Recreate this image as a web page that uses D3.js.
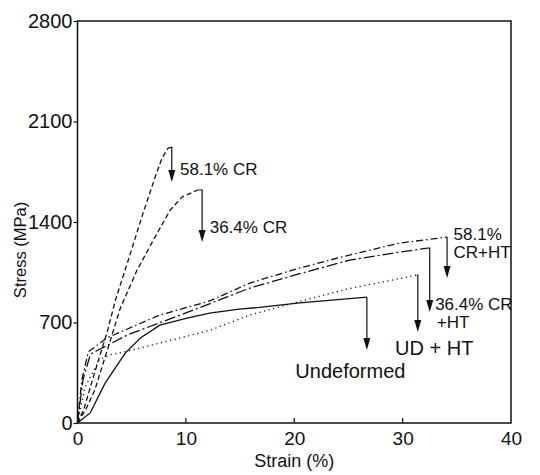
<!DOCTYPE html>
<html>
<head>
<meta charset="utf-8">
<script src="https://cdn.jsdelivr.net/npm/d3@7"></script>
<style>
  body { margin: 0; background: #fff; }
  text { font-family: "Liberation Sans", Arial, sans-serif; fill: #111; }
</style>
</head>
<body>
<svg id="chart" width="540" height="475"></svg>
<script>
// stress-strain curves, [strain %, stress MPa]
var cr581 = [[0,0],[0.6,100],[1.5,330],[2.8,650],[3.5,857],[4.6,1114],[6.05,1462],[7.2,1720],[7.8,1845],[8.35,1915]];
var cr364 = [[0,0],[0.8,100],[1.6,230],[2.8,520],[3.95,800],[5.5,1065],[7,1274],[8.55,1483],[9.65,1574],[11.1,1623]];
var cr581ht = [[0,0],[0.4,300],[1.0,496],[2.7,592],[7.6,752],[12.2,850],[15.9,975],[20.5,1080],[25.1,1170],[29.7,1253],[34.1,1295]];
var cr364ht = [[0,0],[0.5,300],[1.2,480],[4.6,613],[10.7,787],[15.9,940],[20.5,1040],[25.1,1135],[29.7,1190],[32.3,1218]];
var udht = [[0,0],[0.7,250],[2,440],[3,475],[4.6,500],[7.6,557],[12.2,645],[15.9,752],[20.3,843],[25,935],[31.3,1030]];
var undeformed = [[0,0],[1.17,70],[2.55,278],[4.4,487],[5.8,592],[7.6,682],[10.1,731],[12.2,766],[14.9,793],[16.8,805],[20.5,836],[26.7,877]];

var xTicks = [0, 10, 20, 30, 40];
var yTicks = [0, 700, 1400, 2100, 2800];

// arrows: [strain at arrow, stress at curve end, stress at tip]
var arrows = [[8.7, 1920, 1678], [11.5, 1623, 1260], [34.1, 1295, 1010], [32.5, 1218, 773], [31.4, 1030, 634], [26.7, 877, 508]];
var labelText = ["58.1% CR", "36.4% CR", "58.1%", "CR+HT", "36.4% CR", "+HT", "UD + HT", "Undeformed"];
var labelAt = [[9.46, 1727], [12.2, 1323], [34.7, 1275], [34.7, 1149], [33.0, 787], [33.15, 662], [29.3, 474], [20.1, 313]];
var labelBig = [false, false, false, false, false, false, true, true];

var svg = d3.select("#chart");
var x = d3.scaleLinear().domain([0, 40]).range([77.5, 511]);
var y = d3.scaleLinear().domain([0, 2800]).range([423, 21]);

// frame
svg.append("rect")
  .attr("x", x(0)).attr("y", y(2800))
  .attr("width", x(40) - x(0)).attr("height", y(0) - y(2800))
  .attr("fill", "none").attr("stroke", "#111").attr("stroke-width", 1.5);

var gx = svg.append("g").attr("transform", "translate(0," + y(0) + ")")
  .call(d3.axisBottom(x).tickValues(xTicks).tickSize(0).tickPadding(9).tickFormat(d3.format("d")));
gx.select(".domain").remove();
gx.selectAll("text").attr("font-size", 19).attr("font-family", "Liberation Sans, Arial, sans-serif");
// inward x ticks
svg.selectAll(".xt").data(xTicks.slice(1, 4)).enter().append("line")
  .attr("x1", function(d){ return x(d); }).attr("x2", function(d){ return x(d); })
  .attr("y1", y(0)).attr("y2", y(0) - 5)
  .attr("stroke", "#111").attr("stroke-width", 1.2);

var gy = svg.append("g").attr("transform", "translate(" + x(0) + ",0)")
  .call(d3.axisLeft(y).tickValues(yTicks).tickSize(4).tickPadding(1).tickFormat(d3.format("d")));
gy.select(".domain").remove();
gy.selectAll("line").attr("stroke", "#111").attr("stroke-width", 1.2);
gy.selectAll("text").attr("font-size", 20).attr("font-family", "Liberation Sans, Arial, sans-serif");

svg.append("text").attr("x", x(20)).attr("y", 467)
  .attr("text-anchor", "middle").attr("font-size", 18).text("Strain (%)");
svg.append("text").attr("transform", "translate(26," + 250 + ") rotate(-90)")
  .attr("text-anchor", "middle").attr("font-size", 16.5).text("Stress (MPa)");

// curves
var line = d3.line().x(function(d){ return x(d[0]); }).y(function(d){ return y(d[1]); });
var curves = [
  [cr581, "5,3"],
  [cr364, "5,3"],
  [cr581ht, "7,3,1.5,3"],
  [cr364ht, "11,3,2,3"],
  [udht, "1.2,3.5"],
  [undeformed, null]
];
curves.forEach(function(c) {
  svg.append("path").datum(c[0]).attr("d", line)
    .attr("fill", "none").attr("stroke", "#111").attr("stroke-width", 1.3)
    .attr("stroke-dasharray", c[1]);
});

// fracture arrows
arrows.forEach(function(a, i) {
  var curve = curves[i][0], last = curve[curve.length - 1];
  var ax = x(a[0]), top = y(a[1]), tip = y(a[2]);
  svg.append("path")
    .attr("d", "M" + x(last[0]) + "," + y(last[1]) + "L" + ax + "," + top + "L" + ax + "," + (tip - 8))
    .attr("fill", "none").attr("stroke", "#111").attr("stroke-width", 1.2);
  svg.append("path")
    .attr("d", "M" + (ax - 3.5) + "," + (tip - 12) + "L" + (ax + 3.5) + "," + (tip - 12) + "L" + ax + "," + tip + "Z")
    .attr("fill", "#111");
});

labelText.forEach(function(t, i) {
  svg.append("text").attr("x", x(labelAt[i][0])).attr("y", y(labelAt[i][1]))
    .attr("font-size", labelBig[i] ? 20 : 17).text(t);
});
</script>
</body>
</html>
